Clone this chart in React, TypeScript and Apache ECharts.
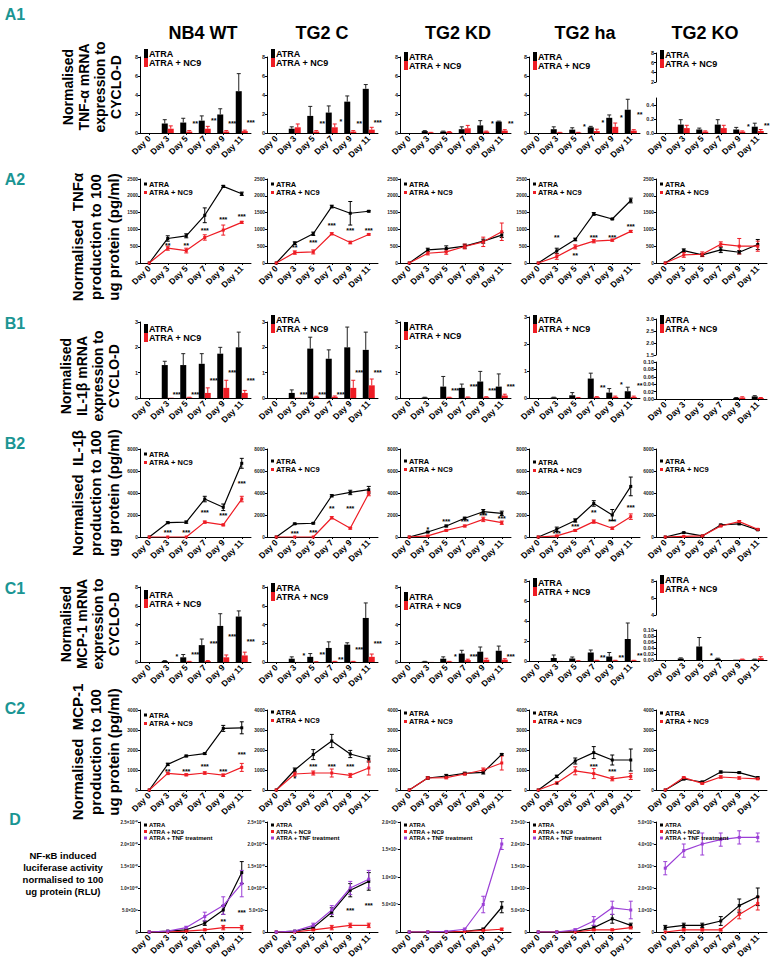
import React, { useEffect, useRef } from "react";
import * as echarts from "echarts";

// ---------------- data ----------------
const days = ["Day 0", "Day 3", "Day 5", "Day 7", "Day 9", "Day 11"];
const cellLines = ["NB4 WT", "TG2 C", "TG2 KD", "TG2 ha", "TG2 KO"];
const seriesNames = ["ATRA", "ATRA + NC9", "ATRA + TNF treatment"];

// A1: TNF-a mRNA
const a1Atra = [
  [0, 1.0, 1.1, 1.3, 1.95, 4.4],
  [0, 0.45, 1.8, 2.15, 3.3, 4.65],
  [0, 0.2, 0.15, 0.4, 0.8, 1.2],
  [0, 0.4, 0.35, 0.6, 1.6, 2.45],
  [0, 0.12, 0.05, 0.12, 0.05, 0.09],
];
const a1AtraErr = [
  [0, 0.4, 0.45, 0.5, 0.6, 1.85],
  [0, 0.2, 1.0, 0.7, 0.6, 0.45],
  [0, 0.05, 0.05, 0.25, 0.5, 0.05],
  [0, 0.25, 0.2, 0.1, 0.3, 1.1],
  [0, 0.07, 0.02, 0.07, 0.03, 0.05],
];
const a1Nc9 = [
  [0, 0.45, 0.15, 0.45, 0.15, 0.2],
  [0, 0.6, 0.15, 0.6, 0.15, 0.35],
  [0, 0.05, 0.1, 0.5, 0.15, 0.25],
  [0, 0.05, 0.05, 0.2, 0.65, 0.25],
  [0, 0.07, 0.02, 0.07, 0.02, 0.03],
];
const a1Nc9Err = [
  [0, 0.3, 0.1, 0.25, 0.1, 0.1],
  [0, 0.35, 0.1, 0.35, 0.1, 0.25],
  [0, 0.02, 0.05, 0.3, 0.05, 0.1],
  [0, 0.02, 0.02, 0.2, 0.4, 0.1],
  [0, 0.04, 0.01, 0.04, 0.01, 0.02],
];
const a1Stars = [
  ["", "", "**", "**", "***", "***"],
  ["", "", "**", "*", "**", "***"],
  ["", "", "", "", "*", "**"],
  ["", "", "*", "*", "*", "**"],
  ["", "", "", "", "*", "**"],
];
const a1StarY = [
  [0, 0, 0.95, 1.3, 0.95, 1.1],
  [0, 0, 0.95, 1.2, 0.95, 1.1],
  [0, 0, 0, 0, 1.0, 1.0],
  [0, 0, 0.7, 1.15, 1.6, 2.0],
  [0, 0, 0, 0, 0.1, 0.11],
];

// A2: TNFa production
const a2Atra = [
  [0, 730, 810, 1420, 2280, 2060],
  [0, 590, 870, 1680, 1480, 1540],
  [0, 390, 430, 500, 650, 830],
  [0, 360, 700, 1460, 1310, 1860],
  [0, 370, 240, 390, 320, 550],
];
const a2AtraErr = [
  [0, 80, 60, 220, 30, 50],
  [0, 40, 50, 40, 350, 20],
  [0, 50, 80, 60, 60, 70],
  [0, 80, 40, 40, 20, 70],
  [0, 50, 40, 80, 50, 150],
];
const a2Nc9 = [
  [0, 440, 370, 760, 980, 1210],
  [0, 310, 330, 870, 610, 850],
  [0, 290, 330, 490, 630, 930],
  [0, 190, 480, 650, 680, 940],
  [0, 240, 260, 560, 500, 500],
];
const a2Nc9Err = [
  [0, 60, 70, 80, 150, 30],
  [0, 50, 60, 30, 40, 20],
  [0, 50, 70, 70, 140, 260],
  [0, 80, 60, 50, 30, 30],
  [0, 70, 70, 70, 230, 150],
];
const a2Stars = [
  ["", "**", "**", "***", "***", "***"],
  ["", "**", "***", "***", "***", "***"],
  ["", "", "", "", "", ""],
  ["", "**", "**", "***", "***", "***"],
  ["", "", "", "", "", ""],
];
const a2StarY = [
  [0, 520, 520, 970, 1280, 1370],
  [0, 470, 600, 1130, 980, 980],
  [0, 0, 0, 0, 0, 0],
  [0, 760, 230, 760, 760, 1080],
  [0, 0, 0, 0, 0, 0],
];

// B1: IL-1b mRNA
const b1Atra = [
  [0, 1.3, 1.3, 1.35, 1.75, 2.0],
  [0, 0.2, 1.95, 1.55, 2.0, 1.9],
  [0, 0.02, 0.45, 0.4, 0.65, 0.45],
  [0, 0.02, 0.1, 0.72, 0.2, 0.25],
  [0, 0, 0, 0, 0.003, 0.007],
];
const b1AtraErr = [
  [0, 0.15, 0.45, 0.4, 0.25, 0.6],
  [0, 0.12, 0.45, 0.35, 0.8, 0.7],
  [0, 0.01, 0.4, 0.15, 0.4, 0.5],
  [0, 0.01, 0.1, 0.2, 0.15, 0.15],
  [0, 0, 0, 0, 0.001, 0.002],
];
const b1Nc9 = [
  [0, 0.01, 0.02, 0.2, 0.4, 0.2],
  [0, 0.01, 0.05, 0.05, 0.4, 0.5],
  [0, 0, 0.02, 0.02, 0.03, 0.1],
  [0, 0, 0.01, 0.03, 0.04, 0.04],
  [0, 0, 0, 0, 0.004, 0.003],
];
const b1Nc9Err = [
  [0, 0, 0.01, 0.2, 0.3, 0.1],
  [0, 0, 0.02, 0.03, 0.3, 0.25],
  [0, 0, 0.01, 0.02, 0.02, 0.05],
  [0, 0, 0.01, 0.02, 0.03, 0.03],
  [0, 0, 0, 0, 0.002, 0.001],
];
const b1Stars = [
  ["", "***", "***", "***", "***", "***"],
  ["", "***", "***", "***", "***", "***"],
  ["", "", "***", "***", "***", "***"],
  ["", "", "", "**", "*", "**"],
  ["", "", "", "", "", ""],
];
const b1StarY = [
  [0, 0.12, 0.12, 0.68, 1.0, 0.68],
  [0, 0.12, 0.12, 0.12, 1.0, 1.0],
  [0, 0, 0.3, 0.45, 0.3, 0.45],
  [0, 0, 0, 0.4, 0.5, 0.45],
  [0, 0, 0, 0, 0, 0],
];

// B2: IL-1b production
const b2Atra = [
  [0, 1300, 1350, 3450, 2700, 6700],
  [0, 1200, 1250, 3750, 4050, 4300],
  [0, 450, 1000, 1700, 2300, 2150],
  [0, 700, 1500, 3050, 2000, 4600],
  [0, 400, 100, 1100, 1200, 650],
];
const b2AtraErr = [
  [0, 80, 100, 250, 300, 450],
  [0, 60, 60, 100, 200, 300],
  [0, 60, 80, 100, 200, 200],
  [0, 200, 150, 250, 500, 850],
  [0, 40, 30, 60, 80, 60],
];
const b2Nc9 = [
  [0, 0, 0, 1350, 1100, 3450],
  [0, 0, 0, 1750, 800, 3950],
  [0, 100, 600, 1000, 1600, 1300],
  [0, 100, 600, 1400, 800, 1850],
  [0, 50, 100, 1000, 1400, 700],
];
const b2Nc9Err = [
  [0, 0, 0, 100, 80, 250],
  [0, 0, 0, 100, 80, 200],
  [0, 30, 60, 80, 200, 150],
  [0, 50, 80, 150, 100, 250],
  [0, 20, 30, 60, 100, 60],
];
const b2Stars = [
  ["", "***", "***", "***", "***", "***"],
  ["", "***", "***", "**", "***", ""],
  ["", "*", "***", "***", "***", "***"],
  ["", "***", "***", "**", "***", "***"],
  ["", "", "", "", "", ""],
];
const b2StarY = [
  [0, 450, 450, 2200, 1950, 4850],
  [0, 300, 450, 2600, 2600, 0],
  [0, 700, 1400, 1400, 1950, 1700],
  [0, 300, 1000, 2200, 1400, 2650],
  [0, 0, 0, 0, 0, 0],
];

// C1: MCP-1 mRNA
const c1Atra = [
  [0, 0.1, 0.5, 1.8, 3.85, 4.85],
  [0, 0.35, 0.55, 1.5, 1.85, 4.7],
  [0, 0.05, 0.35, 0.9, 1.1, 1.2],
  [0, 0.3, 0.25, 0.85, 0.45, 2.2],
  [0, 0.005, 0.045, 0.004, 0.001, 0.002],
];
const c1AtraErr = [
  [0, 0.05, 0.3, 0.65, 1.3, 0.6],
  [0, 0.2, 0.35, 0.65, 0.2, 1.6],
  [0, 0.02, 0.2, 0.35, 0.5, 0.5],
  [0, 0.3, 0.15, 0.25, 0.4, 1.6],
  [0, 0.002, 0.03, 0.002, 0, 0.001],
];
const c1Nc9 = [
  [0, 0.01, 0.05, 0.1, 0.5, 0.7],
  [0, 0.01, 0.02, 0.05, 0.05, 0.55],
  [0, 0.01, 0.05, 0.2, 0.25, 0.25],
  [0, 0.01, 0.02, 0.05, 0.05, 0.05],
  [0, 0, 0, 0, 0.002, 0.006],
];
const c1Nc9Err = [
  [0, 0, 0.02, 0.05, 0.25, 0.35],
  [0, 0, 0.01, 0.02, 0.02, 0.3],
  [0, 0, 0.02, 0.1, 0.15, 0.1],
  [0, 0, 0.01, 0.02, 0.02, 0.02],
  [0, 0, 0, 0, 0.001, 0.005],
];
const c1Stars = [
  ["", "*", "***", "***", "***", "***"],
  ["", "*", "**", "**", "***", "***"],
  ["", "", "*", "***", "", "***"],
  ["", "", "", "**", "**", "**"],
  ["", "", "*", "", "", ""],
];
const c1StarY = [
  [0, 0.6, 0.8, 2.0, 2.7, 2.2],
  [0, 0.7, 0.85, 0.3, 1.3, 2.0],
  [0, 0, 0.6, 0.6, 0, 0.6],
  [0, 0, 0, 0.4, 0.4, 0.6],
  [0, 0, 0.015, 0, 0, 0],
];

// C2: MCP-1 production
const c2Atra = [
  [0, 1280, 1700, 1820, 3080, 3110],
  [0, 1000, 1770, 2450, 1800, 1550],
  [0, 600, 700, 830, 880, 1780],
  [0, 680, 1450, 1870, 1500, 1500],
  [0, 550, 400, 900, 870, 620],
];
const c2AtraErr = [
  [0, 60, 40, 40, 150, 300],
  [0, 100, 250, 330, 180, 150],
  [0, 50, 80, 60, 80, 40],
  [0, 60, 150, 300, 250, 550],
  [0, 40, 40, 50, 40, 40],
];
const c2Nc9 = [
  [0, 830, 760, 850, 740, 1130],
  [0, 800, 850, 850, 730, 1100],
  [0, 600, 620, 800, 1000, 1350],
  [0, 350, 960, 820, 560, 680],
  [0, 620, 330, 650, 600, 560],
];
const c2Nc9Err = [
  [0, 60, 50, 60, 60, 200],
  [0, 100, 100, 200, 100, 350],
  [0, 60, 60, 50, 100, 350],
  [0, 50, 200, 250, 100, 150],
  [0, 40, 40, 60, 60, 40],
];
const c2Stars = [
  ["", "**", "***", "***", "***", "***"],
  ["", "*", "***", "***", "***", ""],
  ["", "", "", "", "", ""],
  ["", "*", "", "***", "***", ""],
  ["", "", "", "", "", ""],
];
const c2StarY = [
  [0, 950, 950, 1200, 950, 1800],
  [0, 600, 1200, 1200, 1200, 0],
  [0, 0, 0, 0, 0, 0],
  [0, 300, 0, 1200, 950, 0],
  [0, 0, 0, 0, 0, 0],
];

// D: NF-kB luciferase
const dAtra = [
  [0, 0.02e10, 0.05e10, 0.2e10, 0.5e10, 1.35e10],
  [0, 0.02e10, 0.1e10, 0.45e10, 0.95e10, 1.15e10],
  [0, 0, 0, 0.01e5, 0.05e5, 0.45e5],
  [0, 0, 0.01e5, 0.1e5, 0.3e5, 0.15e5],
  [0.2e4, 0.3e4, 0.3e4, 0.5e4, 1.2e4, 1.6e4],
];
const dAtraErr = [
  [0, 0, 0.02e10, 0.05e10, 0.1e10, 0.25e10],
  [0, 0, 0.03e10, 0.1e10, 0.15e10, 0.2e10],
  [0, 0, 0, 0.005e5, 0.02e5, 0.1e5],
  [0, 0, 0.005e5, 0.05e5, 0.1e5, 0.05e5],
  [0.1e4, 0.1e4, 0.1e4, 0.2e4, 0.3e4, 0.4e4],
];
const dNc9 = [
  [0, 0, 0.02e10, 0.05e10, 0.1e10, 0.1e10],
  [0, 0, 0.05e10, 0.1e10, 0.15e10, 0.15e10],
  [0, 0, 0, 0.01e5, 0.03e5, 0.05e5],
  [0, 0, 0, 0.05e5, 0.05e5, 0.1e5],
  [0, 0.1e4, 0.1e4, 0.1e4, 0.8e4, 1.3e4],
];
const dNc9Err = [
  [0, 0, 0.01e10, 0.02e10, 0.05e10, 0.05e10],
  [0, 0, 0.02e10, 0.05e10, 0.05e10, 0.05e10],
  [0, 0, 0, 0.005e5, 0.01e5, 0.02e5],
  [0, 0, 0, 0.02e5, 0.02e5, 0.03e5],
  [0, 0.05e4, 0.05e4, 0.05e4, 0.2e4, 0.3e4],
];
const dTnf = [
  [0, 0.02e10, 0.1e10, 0.35e10, 0.6e10, 1.1e10],
  [0, 0.02e10, 0.15e10, 0.5e10, 1.0e10, 1.2e10],
  [0, 0, 0.01e5, 0.05e5, 0.5e5, 1.6e5],
  [0, 0, 0.05e5, 0.25e5, 0.55e5, 0.5e5],
  [2.9e4, 3.7e4, 4.0e4, 4.2e4, 4.3e4, 4.3e4],
];
const dTnfErr = [
  [0, 0, 0.03e10, 0.1e10, 0.2e10, 0.3e10],
  [0, 0, 0.05e10, 0.1e10, 0.15e10, 0.2e10],
  [0, 0, 0.005e5, 0.02e5, 0.15e5, 0.1e5],
  [0, 0, 0.02e5, 0.1e5, 0.15e5, 0.2e5],
  [0.3e4, 0.3e4, 0.5e4, 0.3e4, 0.3e4, 0.2e4],
];
const dStars = [
  ["", "", "", "", "**", "***"],
  ["", "", "", "", "***", "***"],
  ["", "", "", "", "", ""],
  ["", "", "", "", "", ""],
  ["", "", "", "", "", ""],
];
const dStarY = [
  [0, 0, 0, 0, 0.25e10, 0.45e10],
  [0, 0, 0, 0, 0.5e10, 0.6e10],
  [0, 0, 0, 0, 0, 0],
  [0, 0, 0, 0, 0, 0],
  [0, 0, 0, 0, 0, 0],
];
const dYMax = [2.5e10, 2.5e10, 2.0e5, 2.5e5, 5e4];
const dYStep = [5e9, 5e9, 5e4, 5e4, 1e4];

// ---------------- style / layout ----------------
const BLACK = "#000000";
const RED = "#ee1c24";
const PURPLE = "#9b3fd6";
const TEAL = "#1a9593";
const FONT = "Arial, 'Liberation Sans', Helvetica, sans-serif";
const colLeft = [140, 267, 400, 529, 656];
const panelW = 111;

const SUP: Record<string, string> = { "0": "⁰", "1": "¹", "2": "²", "3": "³", "4": "⁴", "5": "⁵", "6": "⁶", "7": "⁷", "8": "⁸", "9": "⁹", "-": "⁻" };
function sci(v: number): string {
  if (v === 0) return "0";
  const e = Math.floor(Math.log10(Math.abs(v)) + 1e-9);
  const m = v / Math.pow(10, e);
  return m.toFixed(1) + "×10" + String(e).split("").map((c) => SUP[c] || c).join("");
}

function buildOption() {
  const grid: any[] = [];
  const xAxis: any[] = [];
  const yAxis: any[] = [];
  const series: any[] = [];
  const legend: any[] = [];
  const graphic: any[] = [];

  const addGrid = (
    left: number, top: number, height: number,
    min: number, max: number, interval: number,
    fmt: any, showX: boolean, hideMax = false, yFont = 5.5
  ) => {
    const i = grid.length;
    grid.push({ left, top, width: panelW, height, containLabel: false });
    xAxis.push({
      type: "category", gridIndex: i, data: days, boundaryGap: true, show: showX,
      axisLine: { show: true, lineStyle: { color: BLACK, width: 1 } },
      axisTick: { show: true, alignWithLabel: true, length: 2, lineStyle: { color: BLACK } },
      axisLabel: { rotate: 45, fontSize: 8.5, fontWeight: "bold", color: BLACK, fontFamily: FONT, margin: 4, interval: 0 },
    });
    yAxis.push({
      type: "value", gridIndex: i, min, max, interval,
      splitLine: { show: false },
      axisLine: { show: true, lineStyle: { color: BLACK, width: 1 } },
      axisTick: { show: true, length: 2, lineStyle: { color: BLACK } },
      axisLabel: { fontSize: yFont, fontWeight: "bold", color: "#222", fontFamily: FONT, margin: 2, formatter: fmt, showMaxLabel: !hideMax },
    });
    return i;
  };

  const errSeries = (g: number, vals: number[], errs: number[], dx: number, color: string, upOnly: boolean) => ({
    type: "custom", xAxisIndex: g, yAxisIndex: g, silent: true, z: 3,
    data: vals.map((v, i) => [i, v, errs[i]]),
    renderItem: (params: any, api: any) => {
      const e = api.value(2);
      if (!e) return null;
      const v = api.value(1);
      const x0 = api.value(0);
      const pLow = api.coord([x0, upOnly ? v : v - e]);
      const pHigh = api.coord([x0, v + e]);
      const x = pLow[0] + dx;
      const cap = 2;
      const style = { stroke: color, lineWidth: 1 };
      const children: any[] = [
        { type: "line", shape: { x1: x, y1: pLow[1], x2: x, y2: pHigh[1] }, style },
        { type: "line", shape: { x1: x - cap, y1: pHigh[1], x2: x + cap, y2: pHigh[1] }, style },
      ];
      if (!upOnly) children.push({ type: "line", shape: { x1: x - cap, y1: pLow[1], x2: x + cap, y2: pLow[1] }, style });
      return { type: "group", children };
    },
  });

  const starSeries = (g: number, stars: string[], ys: number[], dx: number) => {
    const items = stars.map((s, i) => ({ s, i, y: ys[i] })).filter((it) => it.s);
    return {
      type: "custom", xAxisIndex: g, yAxisIndex: g, silent: true, z: 4,
      data: items.map((it) => [it.i, it.y]),
      renderItem: (params: any, api: any) => {
        const it = items[params.dataIndex];
        const p = api.coord([api.value(0), api.value(1)]);
        return {
          type: "text", x: p[0] + dx, y: p[1],
          style: { text: it.s, fill: BLACK, font: "bold 7px " + FONT, align: "center", verticalAlign: "middle", textAlign: "center", textVerticalAlign: "middle" },
        };
      },
    };
  };

  const barPanel = (g: number, atra: number[], atraE: number[], nc9: number[], nc9E: number[], st: string[], stY: number[]) => {
    series.push({ type: "bar", name: seriesNames[0], xAxisIndex: g, yAxisIndex: g, data: atra, barWidth: 6, barGap: "0%", itemStyle: { color: BLACK } });
    series.push({ type: "bar", name: seriesNames[1], xAxisIndex: g, yAxisIndex: g, data: nc9, barWidth: 6, barGap: "0%", itemStyle: { color: RED } });
    series.push(errSeries(g, atra, atraE, -3, "#222", true));
    series.push(errSeries(g, nc9, nc9E, 3, RED, true));
    series.push(starSeries(g, st, stY, 9));
  };

  const linePanel = (g: number, sets: { name: string; vals: number[]; errs: number[]; color: string }[], st: string[], stY: number[]) => {
    sets.forEach((s) => {
      series.push({
        type: "line", name: s.name, xAxisIndex: g, yAxisIndex: g, data: s.vals,
        symbol: "rect", symbolSize: 3, showSymbol: true,
        lineStyle: { color: s.color, width: 1.2 }, itemStyle: { color: s.color }, z: 3,
      });
      series.push(errSeries(g, s.vals, s.errs, 0, s.color, false));
    });
    series.push(starSeries(g, st, stY, 0));
  };

  const barLegend = (left: number, top: number) => ({
    left, top, orient: "vertical", padding: 0, itemGap: 0, itemWidth: 4, itemHeight: 9, icon: "rect",
    selectedMode: false, textStyle: { fontSize: 9, fontWeight: "bold", fontFamily: FONT, color: BLACK, padding: [0, 0, 0, -4] },
    data: [seriesNames[0], seriesNames[1]],
  });
  const lineLegend = (left: number, top: number, names: string[], fs: number) => ({
    left, top, orient: "vertical", padding: 0, itemGap: 0.5, itemWidth: 3, itemHeight: 3, icon: "rect",
    selectedMode: false, textStyle: { fontSize: fs, fontWeight: "bold", fontFamily: FONT, color: BLACK, padding: [0, 0, 0, -3] },
    data: names,
  });

  const intFmt = (v: number) => String(v);

  // ---- A1 ----
  const a1LegTop = [49, 49, 52, 52, 50];
  for (let c = 0; c < 5; c++) {
    if (c < 4) {
      const g = addGrid(colLeft[c], 57, 76, 0, 8, 2, intFmt, true);
      barPanel(g, a1Atra[c], a1AtraErr[c], a1Nc9[c], a1Nc9Err[c], a1Stars[c], a1StarY[c]);
    } else {
      addGrid(colLeft[c], 53, 29, 2, 8, 2, intFmt, false);
      const g = addGrid(colLeft[c], 98, 35, 0, 0.5, 0.2, (v: number) => v.toFixed(1), true, true);
      barPanel(g, a1Atra[c], a1AtraErr[c], a1Nc9[c], a1Nc9Err[c], a1Stars[c], a1StarY[c]);
    }
    legend.push(barLegend(colLeft[c] + 4, a1LegTop[c]));
  }

  // ---- A2 ----
  for (let c = 0; c < 5; c++) {
    const g = addGrid(colLeft[c], 179, 84, 0, 2500, 500, intFmt, true, false, 4.8);
    linePanel(g, [
      { name: seriesNames[0], vals: a2Atra[c], errs: a2AtraErr[c], color: BLACK },
      { name: seriesNames[1], vals: a2Nc9[c], errs: a2Nc9Err[c], color: RED },
    ], a2Stars[c], a2StarY[c]);
    legend.push(lineLegend(colLeft[c] + 4, 180, [seriesNames[0], seriesNames[1]], 7.5));
  }

  // ---- B1 ----
  const b1LegTop = [324, 315, 322, 315, 315];
  for (let c = 0; c < 5; c++) {
    if (c < 4) {
      const g = addGrid(colLeft[c], c === 3 ? 317 : 322, c === 3 ? 81 : 76, 0, 3, 1, intFmt, true);
      barPanel(g, b1Atra[c], b1AtraErr[c], b1Nc9[c], b1Nc9Err[c], b1Stars[c], b1StarY[c]);
    } else {
      addGrid(colLeft[c], 319, 36, 1.5, 3, 0.5, (v: number) => v.toFixed(1), false);
      const g = addGrid(colLeft[c], 362, 37, 0, 0.1, 0.02, (v: number) => v.toFixed(2), true);
      barPanel(g, b1Atra[c], b1AtraErr[c], b1Nc9[c], b1Nc9Err[c], b1Stars[c], b1StarY[c]);
    }
    legend.push(barLegend(colLeft[c] + 4, b1LegTop[c]));
  }

  // ---- B2 ----
  const b2LegTop = [450, 457, 457, 458, 457];
  for (let c = 0; c < 5; c++) {
    const g = addGrid(colLeft[c], 449, 88, 0, 8000, 2000, intFmt, true, false, 4.8);
    linePanel(g, [
      { name: seriesNames[0], vals: b2Atra[c], errs: b2AtraErr[c], color: BLACK },
      { name: seriesNames[1], vals: b2Nc9[c], errs: b2Nc9Err[c], color: RED },
    ], b2Stars[c], b2StarY[c]);
    legend.push(lineLegend(colLeft[c] + 4, b2LegTop[c], [seriesNames[0], seriesNames[1]], 7.5));
  }

  // ---- C1 ----
  const c1LegTop = [590, 583, 592, 578, 575];
  for (let c = 0; c < 5; c++) {
    if (c < 4) {
      const g = addGrid(colLeft[c], c === 3 ? 581 : 587, c === 3 ? 80 : 75, 0, 8, 2, intFmt, true);
      barPanel(g, c1Atra[c], c1AtraErr[c], c1Nc9[c], c1Nc9Err[c], c1Stars[c], c1StarY[c]);
    } else {
      addGrid(colLeft[c], 581, 34, 4, 8, 2, intFmt, false);
      const g = addGrid(colLeft[c], 630, 30, 0, 0.1, 0.02, (v: number) => v.toFixed(2), true);
      barPanel(g, c1Atra[c], c1AtraErr[c], c1Nc9[c], c1Nc9Err[c], c1Stars[c], c1StarY[c]);
    }
    legend.push(barLegend(colLeft[c] + 4, c1LegTop[c]));
  }

  // ---- C2 ----
  const c2LegTop = [711, 708, 709, 709, 709];
  for (let c = 0; c < 5; c++) {
    const g = addGrid(colLeft[c], 710, 80, 0, 4000, 1000, intFmt, true, false, 4.8);
    linePanel(g, [
      { name: seriesNames[0], vals: c2Atra[c], errs: c2AtraErr[c], color: BLACK },
      { name: seriesNames[1], vals: c2Nc9[c], errs: c2Nc9Err[c], color: RED },
    ], c2Stars[c], c2StarY[c]);
    legend.push(lineLegend(colLeft[c] + 4, c2LegTop[c], [seriesNames[0], seriesNames[1]], 7.5));
  }

  // ---- D ----
  for (let c = 0; c < 5; c++) {
    const g = addGrid(colLeft[c], 822, 110, 0, dYMax[c], dYStep[c], sci, true, false, 4.5);
    linePanel(g, [
      { name: seriesNames[0], vals: dAtra[c], errs: dAtraErr[c], color: BLACK },
      { name: seriesNames[1], vals: dNc9[c], errs: dNc9Err[c], color: RED },
      { name: seriesNames[2], vals: dTnf[c], errs: dTnfErr[c], color: PURPLE },
    ], dStars[c], dStarY[c]);
    legend.push(lineLegend(colLeft[c] + 4, 822, seriesNames, 6));
  }

  // ---- texts ----
  const txt = (x: number, y: number, text: string, font: string, fill = BLACK, rotation = 0, lineHeight?: number) => ({
    type: "text", x, y, rotation, silent: true,
    style: { text, font, fill, align: "center", verticalAlign: "middle", textAlign: "center", textVerticalAlign: "middle", lineHeight },
  });
  const titleX = [203, 322, 458, 585, 705];
  cellLines.forEach((t, i) => graphic.push(txt(titleX[i], 33, t, "bold 18px " + FONT)));

  const letterFont = "bold 16px 'Liberation Sans Narrow', 'Arial Narrow', " + FONT;
  const letters: [string, number][] = [["A1", 14], ["A2", 179], ["B1", 323], ["B2", 443], ["C1", 588], ["C2", 708], ["D", 819]];
  letters.forEach(([t, y]) => graphic.push(txt(15, y, t, letterFont, TEAL)));

  const vt = Math.PI / 2;
  graphic.push(txt(92, 87, "Normalised\nTNF-α mRNA\nexpression to\nCYCLO-D", "bold 14px " + FONT, BLACK, vt, 16));
  graphic.push(txt(95, 237, "Normalised  TNFα\nproduction to 100\nug protein (pg/ml)", "bold 15px " + FONT, BLACK, vt, 18));
  graphic.push(txt(90, 376, "Normalised\nIL-1β mRNA\nexpression to\nCYCLO-D", "bold 14px " + FONT, BLACK, vt, 16));
  graphic.push(txt(95, 493, "Normalised  IL-1β\nproduction to 100\nug protein (pg/ml)", "bold 15px " + FONT, BLACK, vt, 18));
  graphic.push(txt(90, 624, "Normalised\nMCP-1 mRNA\nexpression to\nCYCLO-D", "bold 14px " + FONT, BLACK, vt, 16));
  graphic.push(txt(95, 752, "Normalised  MCP-1\nproduction to 100\nug protein (pg/ml)", "bold 15px " + FONT, BLACK, vt, 18));
  graphic.push(txt(63, 873, "NF-κB induced\nluciferase activity\nnormalised to 100\nug protein (RLU)", "bold 9.5px " + FONT, BLACK, 0, 12));

  return {
    animation: false,
    backgroundColor: "#ffffff",
    textStyle: { fontFamily: FONT },
    grid, xAxis, yAxis, series, legend, graphic,
  };
}

export default function App() {
  const ref = useRef<HTMLDivElement>(null);
  useEffect(() => {
    document.body.style.margin = "0";
    const chart = echarts.init(ref.current as HTMLDivElement, null, { renderer: "svg" });
    chart.setOption(buildOption() as any);
    return () => chart.dispose();
  }, []);
  return <div ref={ref} style={{ width: 775, height: 965, background: "#fff" }} />;
}
